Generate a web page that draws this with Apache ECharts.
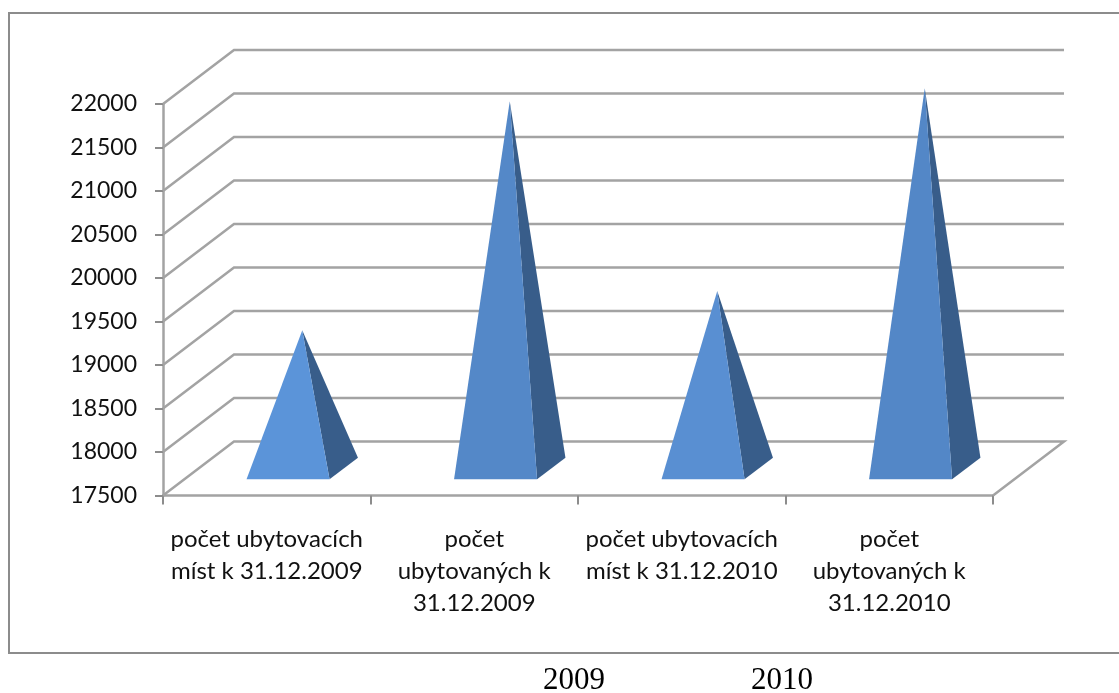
<!DOCTYPE html>
<html>
<head>
<meta charset="utf-8">
<style>
  html, body { margin: 0; padding: 0; background: #fff; }
  #main { width: 1119px; height: 693px; }
</style>
<script src="https://cdn.jsdelivr.net/npm/echarts@6/dist/echarts.min.js"></script>
</head>
<body>
<div id="main"></div>
<script>
var categories = [
  'počet ubytovacích\nmíst k 31.12.2009',
  'počet\nubytovaných k\n31.12.2009',
  'počet ubytovacích\nmíst k 31.12.2010',
  'počet\nubytovaných k\n31.12.2010'
];
var values = [19090, 21720, 19540, 21870];
var yTicks = [17500, 18000, 18500, 19000, 19500, 20000, 20500, 21000, 21500, 22000];
var yearLabels = ['2009', '2010'];

var frontColors = ['#5b94d9', '#5488c8', '#598fd2', '#5387c7'];
var sideColor = '#385d8a';
var lineColor = '#a3a3a3';
var depthX = 71, depthY = -54;

function renderWall(params, api) {
  var grid = params.coordSys;
  var y = api.coord([0, api.value(1)])[1];
  var points = [
    [grid.x, y],
    [grid.x + depthX, y + depthY],
    [grid.x + grid.width + depthX, y + depthY]
  ];
  // the floor also closes on the right side
  if (api.value(1) === yTicks[0]) {
    points.push([grid.x + grid.width, y]);
  }
  return {
    type: 'polyline',
    shape: { points: points },
    style: { fill: null, stroke: lineColor, lineWidth: 2.5 }
  };
}

function renderPyramid(params, api) {
  var idx = api.value(0);
  var base = api.coord([idx, yTicks[0]]);
  var top = api.coord([idx, api.value(1)]);
  var half = api.size([1, 0])[0] * 0.2;
  var fl = [base[0] - half + depthX * 0.3, base[1] + depthY * 0.3];
  var fr = [base[0] + half + depthX * 0.3, base[1] + depthY * 0.3];
  var br = [base[0] + half + depthX * 0.7, base[1] + depthY * 0.7];
  var apex = [base[0] + depthX * 0.5, top[1] + depthY * 0.5];
  return {
    type: 'group',
    children: [
      { type: 'polygon', shape: { points: [apex, fr, br] }, style: { fill: sideColor } },
      { type: 'polygon', shape: { points: [apex, fl, fr] }, style: { fill: frontColors[idx] } }
    ]
  };
}

var chart = echarts.init(document.getElementById('main'), null, { renderer: 'canvas' });
chart.setOption({
  animation: false,
  backgroundColor: '#fff',
  grid: { left: 163, top: 104, width: 830, height: 391.5 },
  xAxis: {
    type: 'category',
    data: categories,
    axisLine: { lineStyle: { color: lineColor, width: 2.5 } },
    axisTick: { show: true, alignWithLabel: false, length: 9, lineStyle: { color: '#8c8c8c', width: 2 } },
    axisLabel: {
      interval: 0,
      margin: 28,
      fontFamily: 'Lato',
      fontSize: 24,
      lineHeight: 32,
      color: '#111'
    }
  },
  yAxis: {
    type: 'value',
    min: 17500,
    max: 22000,
    interval: 500,
    splitLine: { show: false },
    axisLine: { show: true, lineStyle: { color: lineColor, width: 2.5 } },
    axisTick: { show: true, length: 8, lineStyle: { color: '#8c8c8c', width: 2 } },
    axisLabel: {
      margin: 26,
      fontFamily: 'Lato',
      fontSize: 23,
      color: '#111',
      formatter: function (v) { return String(v); }
    }
  },
  graphic: [
    {
      type: 'rect',
      shape: { x: 9, y: 13, width: 1125, height: 640 },
      style: { fill: null, stroke: '#8c8c8c', lineWidth: 2 },
      z: -1
    },
    {
      type: 'text', x: 574, y: 681,
      style: { text: yearLabels[0], fontFamily: 'Liberation Serif', fontSize: 31, fill: '#000', textAlign: 'center', textVerticalAlign: 'middle' }
    },
    {
      type: 'text', x: 782, y: 681,
      style: { text: yearLabels[1], fontFamily: 'Liberation Serif', fontSize: 31, fill: '#000', textAlign: 'center', textVerticalAlign: 'middle' }
    }
  ],
  series: [
    {
      type: 'custom',
      renderItem: renderWall,
      encode: { x: 0, y: 1 },
      data: yTicks.map(function (v) { return [0, v]; }),
      clip: false,
      silent: true,
      z: 1
    },
    {
      type: 'custom',
      renderItem: renderPyramid,
      encode: { x: 0, y: 1 },
      data: values.map(function (v, i) { return [i, v]; }),
      clip: false,
      z: 2
    }
  ]
});
</script>
</body>
</html>
